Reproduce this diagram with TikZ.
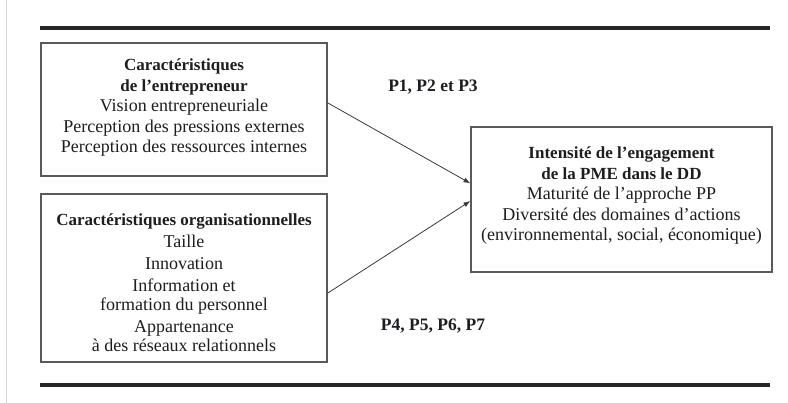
\documentclass[tikz,border=0pt]{standalone}
\usepackage{fontspec}
\setmainfont{Liberation Serif}
\usetikzlibrary{arrows.meta,calc}
\definecolor{ink}{HTML}{1E1E22}
\definecolor{boxgray}{HTML}{5A5A5A}
\definecolor{linegray}{HTML}{3A3A3A}
\definecolor{ruleink}{HTML}{262626}
\definecolor{edgegray}{HTML}{DADADA}
\newcommand\hd[1]{{\fontsize{17}{20}\selectfont\bfseries #1}}
\begin{document}
\begin{tikzpicture}[x=1pt,y=-1pt,
  frame/.style={draw=boxgray,line width=1.1pt,inner sep=0pt},
  body/.style={align=center,text=ink,inner sep=0pt,
    font=\fontsize{18}{20.5}\selectfont},
  link/.style={draw=linegray,line width=0.8pt,-{Latex[length=7pt,width=5pt]}},
  rulebar/.style={draw=ruleink,line width=3.2pt},
  plabel/.style={text=ink,inner sep=0pt,font=\fontsize{17.5}{20}\selectfont\bfseries}]
\useasboundingbox[fill=white] (0,0) rectangle (788,403);
\draw[edgegray,line width=0.6pt] (6,0) -- (6,403);

% horizontal rules framing the figure
\coordinate (rtl) at (40,28);
\coordinate (rtr) at (770,28);
\coordinate (rbl) at (40,385);
\coordinate (rbr) at (770,385);
\draw[rulebar] (rtl) -- (rtr);
\draw[rulebar] (rbl) -- (rbr);

% boxes
\node[frame,minimum width=286pt,minimum height=133pt] (b1) at (184,109.5) {};
\node[frame,minimum width=286pt,minimum height=168pt] (b2) at (184,278) {};
\node[frame,minimum width=301pt,minimum height=145pt] (b3) at (621.5,199.5) {};

% box contents
\node[body] (t1) at (184,108) {\hd{Caractéristiques}\\\hd{de l’entrepreneur}\\
  Vision entrepreneuriale\\Perception des pressions externes\\
  Perception des ressources internes};
\node[body] (t2) at (184,283) {\hd{Caractéristiques organisationnelles}\\[1.5pt]
  Taille\\[1.5pt]Innovation\\[1.5pt]Information et\\[-1.5pt]formation du personnel\\[1.5pt]
  Appartenance\\[-1.5pt]à des réseaux relationnels};
\node[body,font=\fontsize{18}{20.5}\selectfont] (t3) at (621.5,196)
  {\hd{Intensité de l’engagement}\\\hd{de la PME dans le DD}\\
  Maturité de l’approche PP\\Diversité des domaines d’actions\\
  (environnemental, social, économique)};

% links
\draw[link] ($(b1.north east)!0.45!(b1.south east)$) -- ($(b3.north west)!0.39!(b3.south west)$);
\draw[link] ($(b2.north east)!0.59!(b2.south east)$) -- ($(b3.north west)!0.51!(b3.south west)$);

% proposition labels
\node[plabel] (p1) at (433,87) {P1, P2 et P3};
\node[plabel] (p4) at (433,326) {P4, P5, P6, P7};
\end{tikzpicture}
\end{document}
